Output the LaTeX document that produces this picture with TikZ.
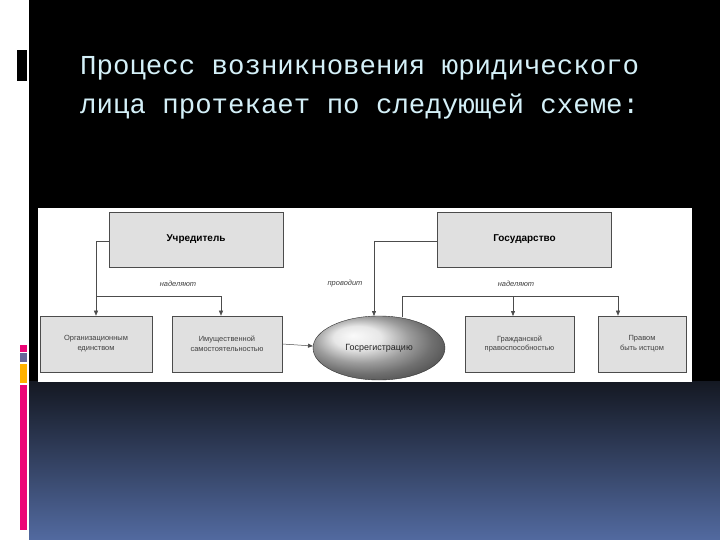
\documentclass[tikz,border=0pt]{standalone}
\usepackage{fontspec}
\setmainfont{Liberation Sans}
\newfontfamily\titlefont{Liberation Mono}
\usetikzlibrary{arrows.meta}
\definecolor{titlecol}{HTML}{D4F0F8}
\definecolor{boxgray}{HTML}{E0E0E0}
\tikzset{
  topbox/.style={draw=black!70,fill=boxgray,line width=0.6pt,minimum width=174bp,minimum height=55bp,font=\fontsize{10}{12}\selectfont\bfseries},
  lowbox/.style={draw=black!70,fill=boxgray,line width=0.6pt,minimum height=56bp,align=center,font=\fontsize{7.5}{10}\selectfont,text=black!75},
  conn/.style={draw=black!70,line width=0.5pt},
  arr/.style={conn,-{Triangle[length=5bp,width=4bp]}},
  lbl/.style={font=\fontsize{7.5}{9}\selectfont\itshape,text=black!75}
}
\begin{document}
\begin{tikzpicture}[x=1bp,y=-1bp]
\useasboundingbox (0,0) rectangle (720,540);
\fill[white] (0,0) rectangle (720,540);
\fill[black] (29,0) rectangle (720,381);
\shade[top color={rgb,255:red,20;green,24;blue,34}, bottom color={rgb,255:red,82;green,106;blue,160}] (29,381) rectangle (720,540);
\fill[black] (17,50) rectangle (27,81);
\fill[magenta!80!red] (20,345) rectangle (27,352);
\fill[gray!80!blue] (20,353) rectangle (27,362);
\fill[orange!60!yellow] (20,364) rectangle (27,383);
\fill[magenta!80!red] (20,385) rectangle (27,530);
\node[anchor=base west,text=titlecol,font=\titlefont\fontsize{27.5}{30}\selectfont,inner sep=0] (t1) at (80,75) {Процесс возникновения юридического};
\node[anchor=base west,text=titlecol,font=\titlefont\fontsize{27.5}{30}\selectfont,inner sep=0] (t2) at (80,114) {лица протекает по следующей схеме:};
\fill[white] (38,208) rectangle (692,382);
\node[topbox] (u) at (196,239.5) {Учредитель};
\node[topbox] (g) at (524.5,239.5) {Государство};
\node[lowbox,minimum width=112bp] (o) at (96,344) {Организационным\\единством};
\node[lowbox,minimum width=110bp] (i) at (227,344) {Имущественной\\самостоятельностью};
\node[lowbox,minimum width=109bp] (gr) at (519.5,344) {Гражданской\\правоспособностью};
\node[lowbox,minimum width=88bp] (p) at (642,344) {Правом\\быть истцом};
\shade[ball color=white!75!gray, draw=black!80] (379,348) ellipse (66bp and 32bp);
\node[font=\fontsize{9}{11}\selectfont,text=black!85] (e) at (379,348) {Госрегистрацию};
\coordinate (ul) at (96,241);
\coordinate (ud) at (96,296);
\coordinate (ur) at (221,296);
\draw[conn] (u.west |- ul) -- (ul) -- (ud) -- (ur);
\draw[arr] (ud) -- (o.north);
\draw[arr] (ur) -- (ur |- i.north);
\coordinate (gl) at (374,241);
\draw[conn] (g.west |- gl) -- (gl);
\draw[arr] (gl) -- (374,316);
\coordinate (et) at (402,317);
\coordinate (eu) at (402,296);
\coordinate (er) at (618,296);
\draw[conn] (et) -- (eu) -- (er);
\draw[arr] (513,296) -- (513,316);
\draw[arr] (er) -- (er |- p.north);
\draw[arr] (i.east) -- (313,346);
\node[lbl] (l1) at (178,284) {наделяют};
\node[lbl] (l2) at (345,284) {проводит};
\node[lbl] (l3) at (516,284) {наделяют};
\end{tikzpicture}
\end{document}
